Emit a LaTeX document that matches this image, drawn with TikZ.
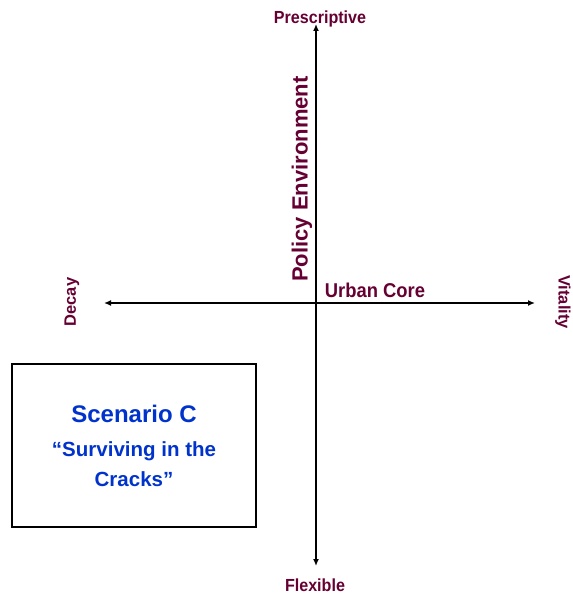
\documentclass[tikz,border=0pt]{standalone}
\usepackage{fontspec}
\setmainfont{Liberation Sans}
\newfontfamily\narrowsans[FakeStretch=0.92]{Liberation Sans}
\usepackage{xcolor}
\definecolor{maroon}{HTML}{660033}
\definecolor{scenblue}{HTML}{0033CC}
\usetikzlibrary{arrows.meta}

\tikzset{
	axis/.style={line width=1.6pt, {Latex[length=7pt,width=6pt]}-{Latex[length=7pt,width=6pt]}},
	axislabel/.style={text=maroon, font=\bfseries\fontsize{16.5}{19}\selectfont, inner sep=0pt},
	narrowlabel/.style={axislabel, font=\narrowsans\bfseries\fontsize{17.5}{20}\selectfont},
	scenbox/.style={draw, line width=1.3pt, minimum width=244pt, minimum height=163pt, inner sep=0pt,
		text=scenblue, align=center, font=\bfseries\fontsize{20.5}{30}\selectfont},
}

\begin{document}
\begin{tikzpicture}[x=1pt, y=-1pt]
	\useasboundingbox (0,0) rectangle (572,596);
	% axes
	\coordinate (ntip) at (316,24);
	\coordinate (stip) at (316,566);
	\coordinate (wtip) at (104,303);
	\coordinate (etip) at (535,303);
	\draw[axis] (ntip) -- (stip);
	\draw[axis] (wtip) -- (etip);
	% labels
	\node[narrowlabel] (prescriptive) at (320,19) {Prescriptive};
	\node[narrowlabel] (flexible) at (315,585) {Flexible};
	\node[axislabel, rotate=90] (decay) at (72,302) {Decay};
	\node[axislabel, rotate=-90] (vitality) at (563,302) {Vitality};
	\node[axislabel, font=\bfseries\fontsize{22}{26}\selectfont, rotate=90] (policy) at (302,179) {Policy Environment};
	\node[narrowlabel, font=\narrowsans\bfseries\fontsize{20}{24}\selectfont] (urban) at (375,290) {Urban Core};
	% scenario box
	\node[scenbox] (scenario) at (134,445.5)
		{{\fontsize{24}{30}\selectfont Scenario C}\\[4pt] “Surviving in the\\ Cracks”};
\end{tikzpicture}
\end{document}
